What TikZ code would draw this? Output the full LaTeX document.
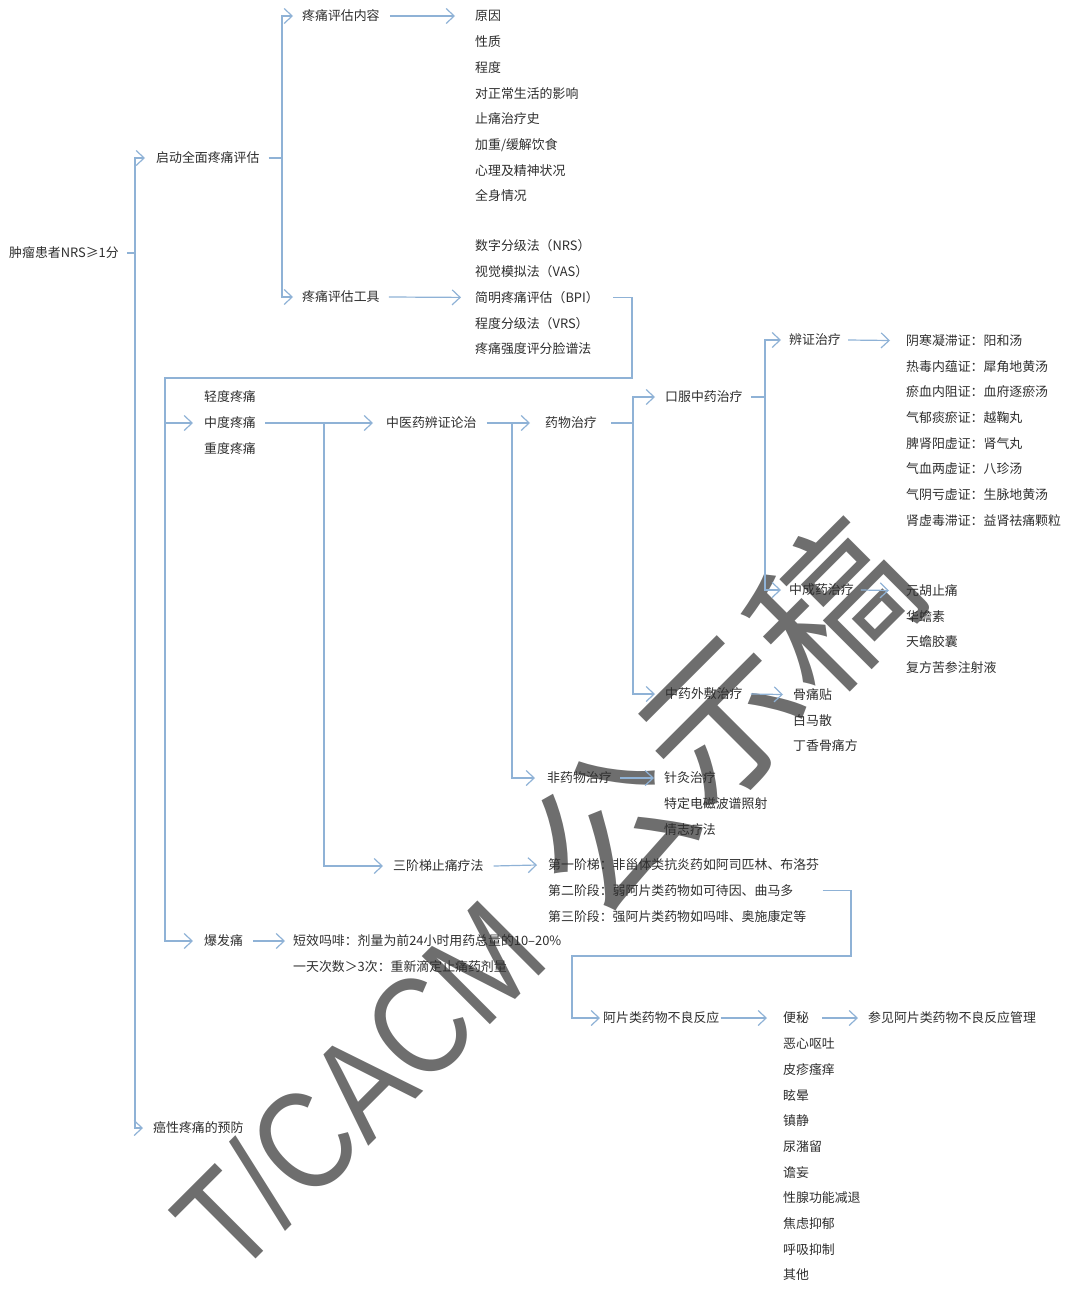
\documentclass[tikz,border=0pt]{standalone}
\usepackage{fontspec}
\setmainfont{Noto Sans CJK SC}
\newfontfamily\wmfont{Liberation Sans}
\usetikzlibrary{arrows.meta}
\definecolor{linkblue}{HTML}{8FB2D6}
\definecolor{inkgray}{HTML}{2E2E2E}
\definecolor{wmgray}{HTML}{6E6E6E}

\begin{document}
\begin{tikzpicture}[x=1pt, y=-1pt,
    every node/.style={font=\fontsize{12.9}{15}\selectfont, text=inkgray},
    lbl/.style={anchor=west, inner sep=0pt, text height=11.5pt, text depth=1.7pt},
    link/.style={draw=linkblue, line width=1.2pt},
    arr/.style={link, -{Straight Barb[length=8pt,width=15pt]}},
    wm/.style={text=wmgray, inner sep=0pt, anchor=base west, rotate=45}]
    \useasboundingbox (0,0) rectangle (1065,1298);

    % watermark
    \node[wm, font=\wmfont\fontsize{140}{142}\selectfont, xscale=0.84] (wmA) at (234,1281) {T/CACM};
    \node[wm, font=\fontsize{158}{160}\selectfont] (wmB) at (596,928) {公示稿};

    % assessment
    \node[lbl] (root) at (9,253) {肿瘤患者NRS≥1分};
    \node[lbl] (eval) at (156,158) {启动全面疼痛评估};
    \node[lbl] (content) at (302,16) {疼痛评估内容};
    \node[lbl] (tool) at (302,297) {疼痛评估工具};
    \node[lbl] (prev) at (153,1128) {癌性疼痛的预防};
    \foreach \t [count=\i] in {原因,性质,程度,对正常生活的影响,止痛治疗史,加重/缓解饮食,心理及精神状况,全身情况}
        \node[lbl] (c\i) at (475,{16+25.7*(\i-1)}) {\t};
    \foreach \t [count=\i] in {数字分级法（NRS）,视觉模拟法（VAS）,简明疼痛评估（BPI）,程度分级法（VRS）,疼痛强度评分脸谱法}
        \node[lbl] (t\i) at (475,{246+25.7*(\i-1)}) {\t};

    % pain levels and treatment
    \node[lbl] (mild) at (204,397) {轻度疼痛};
    \node[lbl] (mod) at (204,423) {中度疼痛};
    \node[lbl] (severe) at (204,449) {重度疼痛};
    \node[lbl] (burst) at (204,941) {爆发痛};
    \node[lbl] (tcm) at (386,423) {中医药辨证论治};
    \node[lbl] (drug) at (545,423) {药物治疗};
    \node[lbl] (oral) at (665,397) {口服中药治疗};
    \node[lbl] (ext) at (665,694) {中药外敷治疗};
    \node[lbl] (syn) at (789,340) {辨证治疗};
    \node[lbl] (patent) at (789,590) {中成药治疗};
    \node[lbl] (nondrug) at (547,778) {非药物治疗};
    \node[lbl] (ladder) at (393,866) {三阶梯止痛疗法};
    \node[lbl] (adr) at (603,1018) {阿片类药物不良反应};
    \node[lbl] (constip) at (783,1018) {便秘};
    \node[lbl] (see) at (868,1018) {参见阿片类药物不良反应管理};

    \foreach \t [count=\i] in {阴寒凝滞证：阳和汤,热毒内蕴证：犀角地黄汤,瘀血内阻证：血府逐瘀汤,气郁痰瘀证：越鞠丸,脾肾阳虚证：肾气丸,气血两虚证：八珍汤,气阴亏虚证：生脉地黄汤,肾虚毒滞证：益肾祛痛颗粒}
        \node[lbl] (s\i) at (906,{340.5+25.7*(\i-1)}) {\t};
    \foreach \t [count=\i] in {元胡止痛,华蟾素,天蟾胶囊,复方苦参注射液}
        \node[lbl] (p\i) at (906,{590.5+25.7*(\i-1)}) {\t};
    \foreach \t [count=\i] in {骨痛贴,白马散,丁香骨痛方}
        \node[lbl] (e\i) at (793,{694.5+25.7*(\i-1)}) {\t};
    \foreach \t [count=\i] in {针灸治疗,特定电磁波谱照射,情志疗法}
        \node[lbl] (n\i) at (664,{778+25.7*(\i-1)}) {\t};
    \foreach \t [count=\i] in {第一阶梯：非甾体类抗炎药如阿司匹林、布洛芬,第二阶段：弱阿片类药物如可待因、曲马多,第三阶段：强阿片类药物如吗啡、奥施康定等}
        \node[lbl] (l\i) at (548,{865+25.7*(\i-1)}) {\t};
    \node[lbl] (b1) at (293,941) {短效吗啡：剂量为前24小时用药总量的10–20\%};
    \node[lbl] (b2) at (293,966.7) {一天次数＞3次：重新滴定止痛药剂量};
    \foreach \t [count=\i] in {恶心呕吐,皮疹瘙痒,眩晕,镇静,尿潴留,谵妄,性腺功能减退,焦虑抑郁,呼吸抑制,其他}
        \node[lbl] (a\i) at (783,{1018+25.7*\i}) {\t};

    % connectors
    \coordinate (j0) at (135,253);
    \draw[link] ([xshift=8]root.east) -- (j0);
    \draw[arr] (j0) |- ([xshift=-11]eval.west);
    \draw[arr] (j0) |- ([xshift=-10]prev.west);

    \coordinate (j1) at (282,158);
    \draw[link] ([xshift=9]eval.east) -- (j1);
    \draw[arr] (j1) |- ([xshift=-9]content.west);
    \draw[arr] (j1) |- ([xshift=-9]tool.west);
    \draw[arr] ([xshift=10]content.east) -- ([xshift=-20]c1.west);
    \draw[arr] ([xshift=9]tool.east) -- ([xshift=-14]t3.west);

    \coordinate (k1) at (632,378);
    \coordinate (k2) at (165,378);
    \draw[arr] ([xshift=14]t3.east) -| (k1) -- (k2) |- ([xshift=-11]burst.west);
    \draw[arr] (k2) |- ([xshift=-11]mod.west);

    \coordinate (j3) at (324,423);
    \draw[arr] ([xshift=9]mod.east) -- ([xshift=-13]tcm.west);
    \draw[arr] (j3) |- ([xshift=-10]ladder.west);

    \coordinate (j4) at (512,423);
    \draw[arr] ([xshift=10]tcm.east) -- ([xshift=-15]drug.west);
    \draw[arr] (j4) |- ([xshift=-12]nondrug.west);

    \coordinate (j5) at (633,423);
    \draw[link] ([xshift=14]drug.east) -- (j5);
    \draw[arr] (j5) |- ([xshift=-10]oral.west);
    \draw[arr] (j5) |- ([xshift=-10]ext.west);

    \coordinate (j6) at (765,397);
    \draw[link] ([xshift=8]oral.east) -- (j6);
    \draw[arr] (j6) |- ([xshift=-8]syn.west);
    \draw[arr] (j6) |- ([xshift=-8]patent.west);

    \draw[arr] ([xshift=7]syn.east) -- ([xshift=-16]s1.west);
    \draw[arr] ([xshift=7]patent.east) -- ([xshift=-17]p1.west);
    \draw[arr] ([xshift=8]ext.east) -- ([xshift=-10]e1.west);
    \draw[arr] ([xshift=8]nondrug.east) -- ([xshift=-10]n1.west);
    \draw[arr] ([xshift=10]ladder.east) -- ([xshift=-11]l1.west);

    \coordinate (k3) at (851,956);
    \coordinate (k4) at (572,956);
    \draw[arr] ([xshift=29]l2.east) -| (k3) -- (k4) |- ([xshift=-3]adr.west);
    \draw[arr] ([xshift=1]adr.east) -- ([xshift=-16]constip.west);
    \draw[arr] ([xshift=13]constip.east) -- ([xshift=-10]see.west);
    \draw[arr] ([xshift=10]burst.east) -- ([xshift=-8]b1.west);
\end{tikzpicture}
\end{document}
